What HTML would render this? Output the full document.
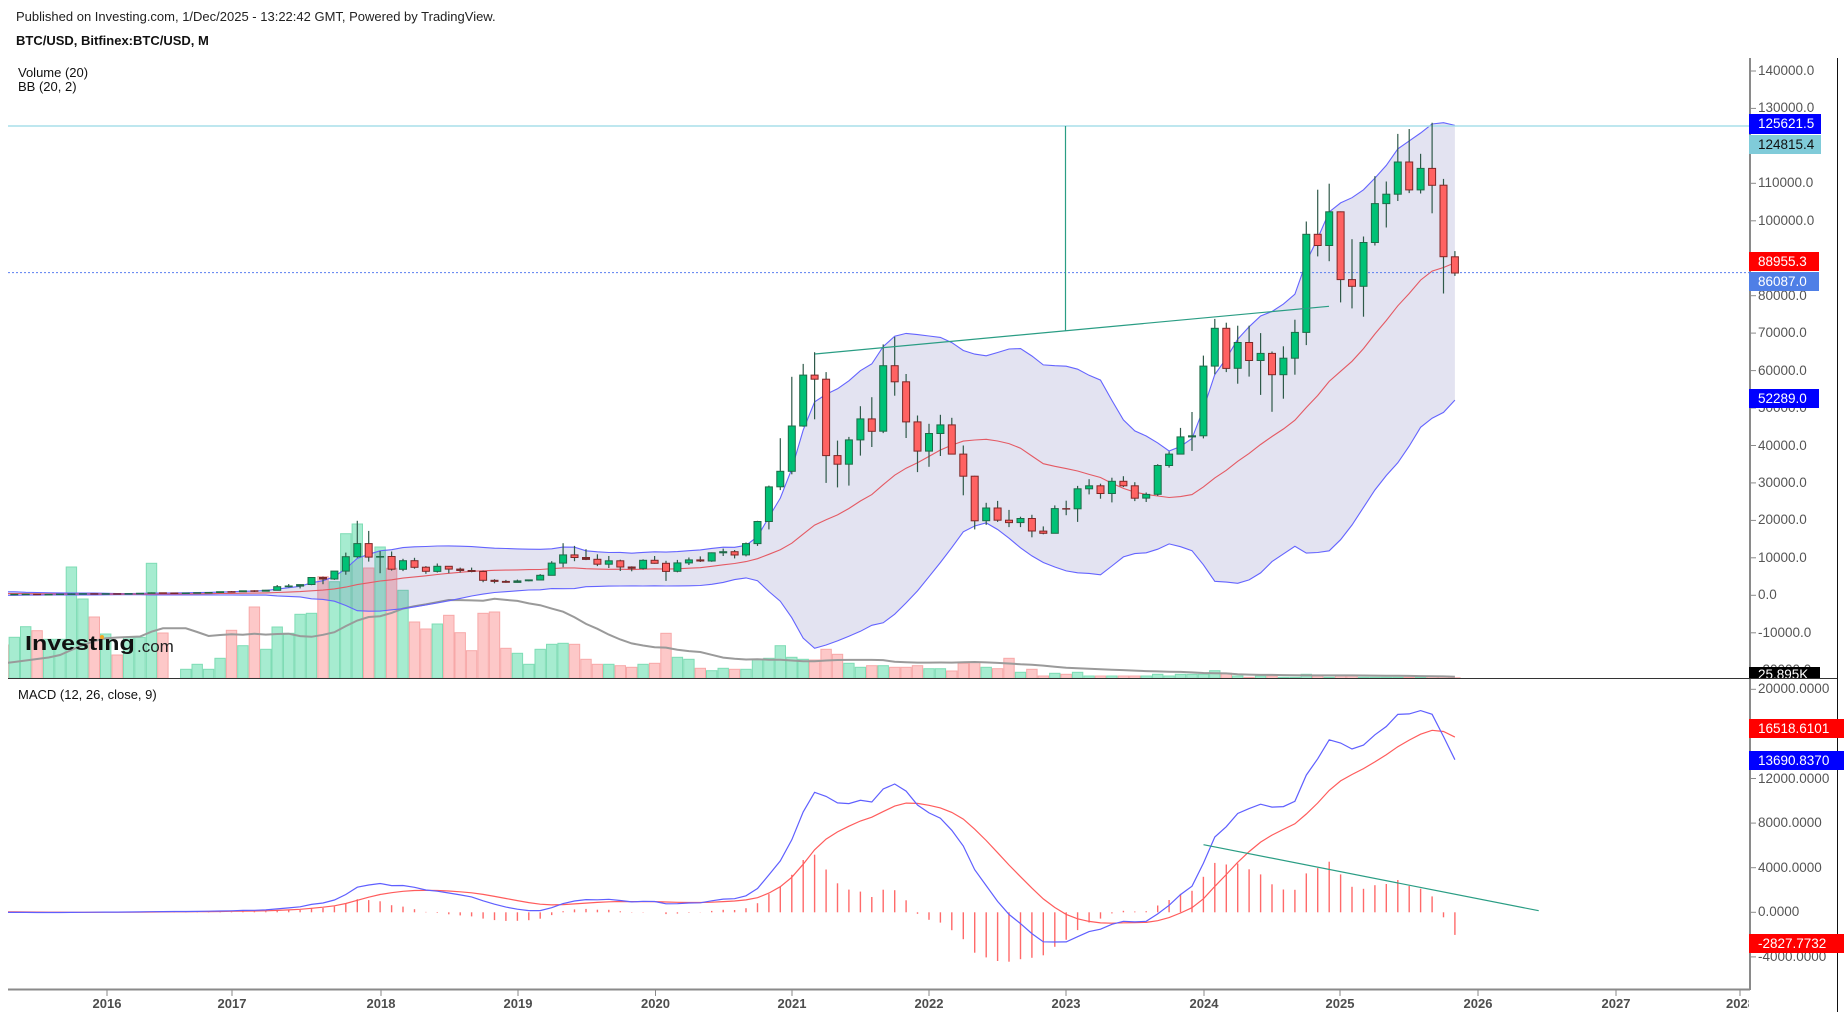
<!DOCTYPE html>
<html><head><meta charset="utf-8">
<style>
html,body{margin:0;padding:0}
body{width:1844px;height:1018px;background:#fff;overflow:hidden;position:relative;font-family:"Liberation Sans",Arial,sans-serif}
.t{position:absolute;white-space:nowrap;line-height:16px}
.hd{font-size:13px;color:#222}
.pl{font-size:13.5px;color:#555;left:1758px}
.tl{font-size:13px;font-weight:bold;color:#4d4d4d;width:40px;text-align:center;top:996px}
.bx{position:absolute;left:1749px;font-size:13.5px;white-space:nowrap;padding-left:9px;box-sizing:border-box;overflow:hidden}
</style></head><body>
<svg id="c" width="1844" height="1018" style="position:absolute;left:0;top:0"></svg>

<div class="t hd" style="left:16px;top:9px">Published on Investing.com, 1/Dec/2025 - 13:22:42 GMT, Powered by TradingView.</div>
<div class="t hd" style="left:16px;top:33px;font-weight:bold;color:#111">BTC/USD, Bitfinex:BTC/USD, M</div>
<div class="t hd" style="left:18px;top:65px;color:#111">Volume (20)</div>
<div class="t hd" style="left:18px;top:79px;color:#111">BB (20, 2)</div>
<div class="t hd" style="left:18px;top:687px;color:#111">MACD (12, 26, close, 9)</div>

<!-- logo -->
<div class="t" style="left:25px;top:632px;font-size:20px;line-height:24px;font-weight:bold;color:#111;transform:scaleX(1.25);transform-origin:0 0">Investıng</div>
<div style="position:absolute;left:99.5px;top:634.5px;width:4.5px;height:4.5px;border-radius:50%;background:#f5a623"></div>
<div class="t" style="left:137px;top:637px;font-size:17px;line-height:20px;color:#222">.com</div>

<!-- price axis labels -->
<div class="t pl" style="top:63px">140000.0</div>
<div class="t pl" style="top:100.4px">130000.0</div>
<div class="t pl" style="top:137.9px">120000.0</div>
<div class="t pl" style="top:175.4px">110000.0</div>
<div class="t pl" style="top:212.8px">100000.0</div>
<div class="t pl" style="top:250.3px">90000.0</div>
<div class="t pl" style="top:287.7px">80000.0</div>
<div class="t pl" style="top:325.2px">70000.0</div>
<div class="t pl" style="top:362.6px">60000.0</div>
<div class="t pl" style="top:400px">50000.0</div>
<div class="t pl" style="top:437.5px">40000.0</div>
<div class="t pl" style="top:475px">30000.0</div>
<div class="t pl" style="top:512.4px">20000.0</div>
<div class="t pl" style="top:549.9px">10000.0</div>
<div class="t pl" style="top:587.3px">0.0</div>
<div class="t pl" style="top:624.8px">-10000.0</div>
<div class="t pl" style="top:662.2px">-20000.0</div>

<!-- macd axis labels -->
<div class="t pl" style="top:681.3px">20000.0000</div>
<div class="t pl" style="top:725.9px">16000.0000</div>
<div class="t pl" style="top:770.5px">12000.0000</div>
<div class="t pl" style="top:815.1px">8000.0000</div>
<div class="t pl" style="top:859.7px">4000.0000</div>
<div class="t pl" style="top:904.3px">0.0000</div>
<div class="t pl" style="top:948.9px">-4000.0000</div>

<!-- price boxes -->
<div class="bx" style="top:114.3px;height:20px;line-height:20px;width:72px;background:#0000ff;color:#fff">125621.5</div>
<div class="bx" style="top:134.5px;height:19.5px;line-height:19.5px;width:72px;background:#80cbd9;color:#111">124815.4</div>
<div class="bx" style="top:251.7px;height:19px;line-height:19px;width:70px;background:#ff0000;color:#fff">88955.3</div>
<div class="bx" style="top:271.5px;height:19.8px;line-height:19.8px;width:70px;background:#4f7fe6;color:#fff">86087.0</div>
<div class="bx" style="top:388.5px;height:19px;line-height:19px;width:70px;background:#0000ff;color:#fff">52289.0</div>
<div class="bx" style="top:667px;height:11.3px;line-height:16px;width:71px;background:#000;color:#fff">25.895K</div>

<!-- macd boxes -->
<div class="bx" style="top:719.3px;height:19px;line-height:19px;width:95px;background:#ff0000;color:#fff">16518.6101</div>
<div class="bx" style="top:750.7px;height:19.3px;line-height:19.3px;width:95px;background:#0000ff;color:#fff">13690.8370</div>
<div class="bx" style="top:934px;height:19.3px;line-height:19.3px;width:95px;background:#ff0000;color:#fff">-2827.7732</div>

<!-- time labels -->
<div class="t tl" style="left:87px">2016</div>
<div class="t tl" style="left:212px">2017</div>
<div class="t tl" style="left:361px">2018</div>
<div class="t tl" style="left:498px">2019</div>
<div class="t tl" style="left:635.5px">2020</div>
<div class="t tl" style="left:772px">2021</div>
<div class="t tl" style="left:909px">2022</div>
<div class="t tl" style="left:1046px">2023</div>
<div class="t tl" style="left:1184px">2024</div>
<div class="t tl" style="left:1320px">2025</div>
<div class="t tl" style="left:1458px">2026</div>
<div class="t tl" style="left:1596px">2027</div>
<div style="position:absolute;left:1700px;top:996px;width:49px;height:20px;overflow:hidden"><div class="t tl" style="left:20.5px;top:0">2028</div></div>

<script>
(function(){
var pre=[20,33,93,140,129,97,106,141,130,200,1100,750,830,570,460,450,630,640,590,480,390,340,380,320,220,255,245,236];
var D=[
[236,247,228,230],[230,268,221,263],[263,318,253,284],[284,285,199,230],[230,247,225,236],[236,333,235,314],[314,504,300,377],[377,467,350,430],
[430,463,352,369],[369,449,365,437],[437,440,393,416],[416,467,412,448],[448,550,440,531],[531,780,520,673],[673,700,580,624],[624,627,480,575],[575,630,570,609],[609,740,605,700],[700,755,690,745],[745,975,740,965],
[965,1150,750,960],[960,1200,940,1190],[1190,1350,890,1080],[1080,1450,1070,1350],[1350,2760,1350,2300],[2300,3000,2100,2480],[2480,2950,1830,2870],[2870,4750,2700,4740],[4740,5000,2970,4340],[4340,6450,4100,6450],[6450,11400,5500,10300],[10300,19900,10000,13800],
[13800,17200,9000,10200],[10200,11800,5900,10350],[10350,11700,6600,6950],[6950,9750,6450,9250],[9250,10000,7100,7500],[7500,7800,5750,6400],[6400,8500,6100,7750],[7750,7800,5900,7000],[7000,7400,6100,6630],[6630,7400,6150,6350],[6350,6600,3500,4000],[4000,4300,3200,3700],
[3700,4100,3350,3450],[3450,4200,3400,3850],[3850,4100,3750,4100],[4100,5650,4100,5350],[5350,9100,5350,8600],[8600,13900,7500,10800],[10800,13200,9100,10100],[10100,12300,9400,9600],[9600,10950,7800,8300],[8300,10500,7300,9200],[9200,9500,6500,7550],[7550,7750,6400,7200],
[7200,9600,6850,9350],[9350,10500,8450,8550],[8550,9200,3850,6400],[6400,9450,6150,8650],[8650,10100,8100,9450],[9450,10400,8900,9150],[9150,11450,8950,11350],[11350,12480,10500,11650],[11650,12100,9850,10780],[10780,14100,10400,13800],[13800,19900,13200,19700],[19700,29300,17600,28950],
[28950,41950,28100,33100],[33100,58350,32300,45200],[45200,61800,45000,58800],[58800,64900,47000,57700],[57700,59600,30000,37300],[37300,41300,28800,35000],[35000,42300,29300,41500],[41500,50500,37300,47100],[47100,52900,39600,43800],[43800,67000,43300,61300],[61300,69000,53300,57000],[57000,59100,42000,46300],
[46300,48000,32900,38500],[38500,45800,34300,43200],[43200,48200,37200,45500],[45500,47400,37600,37700],[37700,40000,26700,31800],[31800,31900,17600,19900],[19900,24700,18800,23300],[23300,25200,19600,20050],[20050,22800,18200,19400],[19400,21000,18200,20500],[20500,21500,15500,17150],[17150,18400,16300,16550],
[16550,24000,16500,23150],[23150,25250,21400,23100],[23100,29200,19600,28450],[28450,31000,26950,29250],[29250,29800,25800,27200],[27200,31400,24800,30450],[30450,31800,28900,29250],[29250,30200,25150,25950],[25950,27450,24900,26950],[26950,35000,26550,34650],[34650,38400,34100,37700],[37700,44700,37600,42300],
[42300,48950,38550,42600],[42600,64000,41900,61200],[61200,73800,59000,71300],[71300,72800,59600,60600],[60600,72000,56500,67500],[67500,72000,58400,62700],[62700,70000,53500,64600],[64600,65100,49000,58900],[58900,66500,52500,63300],[63300,73600,58900,70200],[70200,99800,66800,96400],[96400,108300,90500,93400],
[93400,109900,89200,102400],[102400,102500,78200,84300],[84300,95100,76600,82500],[82500,95800,74400,94200],[94200,111900,93400,104600],[104600,110500,98200,107100],[107100,123200,105300,115700],[115700,124500,107400,108250],[108250,117900,107300,114000],[114000,126200,102000,109500],[109500,111200,80600,90400],[90400,91900,85300,86087]
];
var VT=[645,637.3,626.7,630.7,639.3,639.3,567,599,
617,634,655,637.3,637.3,563.3,633,678,669.3,664.3,669.3,658.3,
630.3,645.7,607,649.3,627,633.3,614.3,613.3,576.7,581.7,533.7,524,
568,547,568.3,590.3,622,629,624,615.3,632.7,650.7,613.3,612,
648.3,653.3,664.3,649.3,644.3,643.3,644.3,659.3,664.3,664.3,665.7,667.3,
664.3,663.3,633.3,657.3,659.3,668.3,670.7,668.3,669.3,669.3,659.3,658.3,
645.7,657.3,659.3,660,649.3,654.3,663.3,667.3,665.7,665.7,667.3,667.3,
665.7,668.7,668.7,671,663.3,662,667.3,668.7,658.3,672.3,669.3,676,
673.3,674.3,672.3,676,676,676,676,676,676,674.3,676,674.3,
674.3,674.3,670.7,673.3,676,677.3,676,676,677.3,677.3,674.3,676,
677.3,676,676,677.3,677.3,677.3,677.3,677.3,677.3,676,676,677.8];
var VMh=[663.3,662,660.5,659,657.5,655,650,645,641,638.3,637.5,637,636.5,631.7,628.3,628.3,628.3,632,636];
var N=D.length;
function X(i){return 94.3+11.434*(i-8);}
function Yp(p){return 595.3-p*0.003745;}
function Ym(v){return 912.3-v*0.01115;}
function f(v){return v.toFixed(1);}
var C=pre.concat(D.map(function(d){return d[3];}));var off=pre.length;
var bU=[],bL=[],bM=[];
for(var i=0;i<N;i++){var k=off+i,s=0,j;for(j=k-19;j<=k;j++)s+=C[j];var m=s/20,v=0;for(j=k-19;j<=k;j++)v+=(C[j]-m)*(C[j]-m);var sd=Math.sqrt(v/20);bM.push(m);bU.push(m+2*sd);bL.push(m-2*sd);}
var e12=C[0],e26=C[0],sig=0,mac=[],sg=[];
for(var k2=0;k2<C.length;k2++){var c=C[k2];if(k2>0){e12=c*2/13+e12*11/13;e26=c*2/27+e26*25/27;}var md=e12-e26;sig=(k2==0)?md:md*0.2+sig*0.8;mac.push(md);sg.push(sig);}
var S='<defs><clipPath id="cp"><rect x="8" y="58" width="1742" height="620.3"/></clipPath><clipPath id="cm"><rect x="8" y="679" width="1742" height="310"/></clipPath></defs>';
var g='<g clip-path="url(#cp)">';
// volume bars
for(i=0;i<N;i++){var top=VT[i];if(top>=678)continue;var up=D[i][3]>=D[i][0];
g+='<rect x="'+f(X(i)-5.2)+'" y="'+top+'" width="10.4" height="'+f(678.3-top)+'" fill="'+(up?'#a6ecd0':'#fdc8c8')+'" stroke="'+(up?'#7fdcb5':'#f7a8a8')+'" stroke-width="1"/>';}
// volume MA
var vp=[];for(i=0;i<N;i++){var mm=i-8,y;if(mm<=10)y=VMh[i];else{var sh=0;for(j=i-19;j<=i;j++)sh+=678.3-VT[j];y=678.3-sh/20;}vp.push(f(X(i))+','+f(y));}
g+='<polyline points="'+vp.join(' ')+'" fill="none" stroke="#9a9a9a" stroke-width="2"/>';
// BB fill
var up1=[],lo1=[],mid=[];for(i=0;i<N;i++){up1.push(f(X(i))+','+f(Yp(bU[i])));lo1.push(f(X(i))+','+f(Yp(bL[i])));mid.push(f(X(i))+','+f(Yp(bM[i])));}
g+='<polygon points="'+up1.join(' ')+' '+lo1.slice().reverse().join(' ')+'" fill="rgba(60,60,160,0.145)" stroke="none"/>';
g+='<polyline points="'+up1.join(' ')+'" fill="none" stroke="#6464ff" stroke-width="1.1"/>';
g+='<polyline points="'+lo1.join(' ')+'" fill="none" stroke="#6464ff" stroke-width="1.1"/>';
g+='<polyline points="'+mid.join(' ')+'" fill="none" stroke="#e45a64" stroke-width="1.1"/>';
// horizontal lines
g+='<line x1="8" y1="126" x2="1750" y2="126" stroke="#a8dfea" stroke-width="1.5"/>';
g+='<line x1="8" y1="272.6" x2="1750" y2="272.6" stroke="#5a7ef0" stroke-width="1" stroke-dasharray="2,2"/>';
// candles
for(i=0;i<N;i++){var d=D[i],x=X(i),yo=Yp(d[0]),yc=Yp(d[3]),yh=Yp(d[1]),yl=Yp(d[2]);var upc=d[3]>=d[0];
g+='<line x1="'+f(x)+'" y1="'+f(yh)+'" x2="'+f(x)+'" y2="'+f(yl)+'" stroke="#2f5a4a" stroke-width="1.2"/>';
var tp=Math.min(yo,yc),ht=Math.abs(yo-yc);
if(ht<2){g+='<rect x="'+f(x-4)+'" y="'+f(tp-0.5)+'" width="8" height="'+f(Math.max(1.5,ht+1))+'" fill="'+(upc?'#1e6b48':'#7a2a2a')+'"/>';}
else{g+='<rect x="'+f(x-3.5)+'" y="'+f(tp)+'" width="7" height="'+f(ht)+'" fill="'+(upc?'#00c176':'#ff6262')+'" stroke="'+(upc?'#1e6b48':'#7f2626')+'" stroke-width="1"/>';}}
// teal drawings
g+='<line x1="1065.5" y1="126" x2="1065.5" y2="331" stroke="#2a9d84" stroke-width="1.2"/>';
g+='<line x1="815" y1="354" x2="1329" y2="306.3" stroke="#2a9d84" stroke-width="1.2"/>';
g+='</g>';
// MACD pane
var h='<g clip-path="url(#cm)">';
for(i=0;i<N;i++){var k3=off+i,hv=mac[k3]-sg[k3];h+='<line x1="'+f(X(i))+'" y1="912.3" x2="'+f(X(i))+'" y2="'+f(Ym(hv))+'" stroke="#ff6a6a" stroke-width="1.4"/>';}
var mp=[],sp=[];for(i=0;i<N;i++){mp.push(f(X(i))+','+f(Ym(mac[off+i])));sp.push(f(X(i))+','+f(Ym(sg[off+i])));}
h+='<polyline points="'+sp.join(' ')+'" fill="none" stroke="#ff5c5c" stroke-width="1.2"/>';
h+='<polyline points="'+mp.join(' ')+'" fill="none" stroke="#5f5fff" stroke-width="1.2"/>';
h+='<line x1="1203.5" y1="844.7" x2="1538.7" y2="910.7" stroke="#2a9d84" stroke-width="1.2"/>';
h+='</g>';
// axes
var a='';
a+='<line x1="1750" y1="58" x2="1750" y2="990" stroke="#8a8a8a" stroke-width="2"/>';
a+='<line x1="1837.5" y1="58" x2="1837.5" y2="1012" stroke="#111" stroke-width="1"/>';
a+='<line x1="8" y1="678.5" x2="1837" y2="678.5" stroke="#333" stroke-width="1"/>';
a+='<line x1="8" y1="989.5" x2="1750" y2="989.5" stroke="#8a8a8a" stroke-width="2"/>';
var pv=[140000,130000,120000,110000,100000,90000,80000,70000,60000,50000,40000,30000,20000,10000,0,-10000,-20000];
pv.forEach(function(p){var yy=Yp(p);a+='<line x1="1750" y1="'+f(yy)+'" x2="1756" y2="'+f(yy)+'" stroke="#8a8a8a" stroke-width="1"/>';});
[20000,16000,12000,8000,4000,0,-4000].forEach(function(p){var yy=Ym(p);a+='<line x1="1750" y1="'+f(yy)+'" x2="1756" y2="'+f(yy)+'" stroke="#8a8a8a" stroke-width="1"/>';});
[107,232,381,518,655.5,792,929,1066,1204,1340,1478,1616,1740].forEach(function(xx){a+='<line x1="'+xx+'" y1="990" x2="'+xx+'" y2="996" stroke="#8a8a8a" stroke-width="1"/>';});
document.getElementById('c').innerHTML=S+g+h+a;
})();
</script>
</body></html>
